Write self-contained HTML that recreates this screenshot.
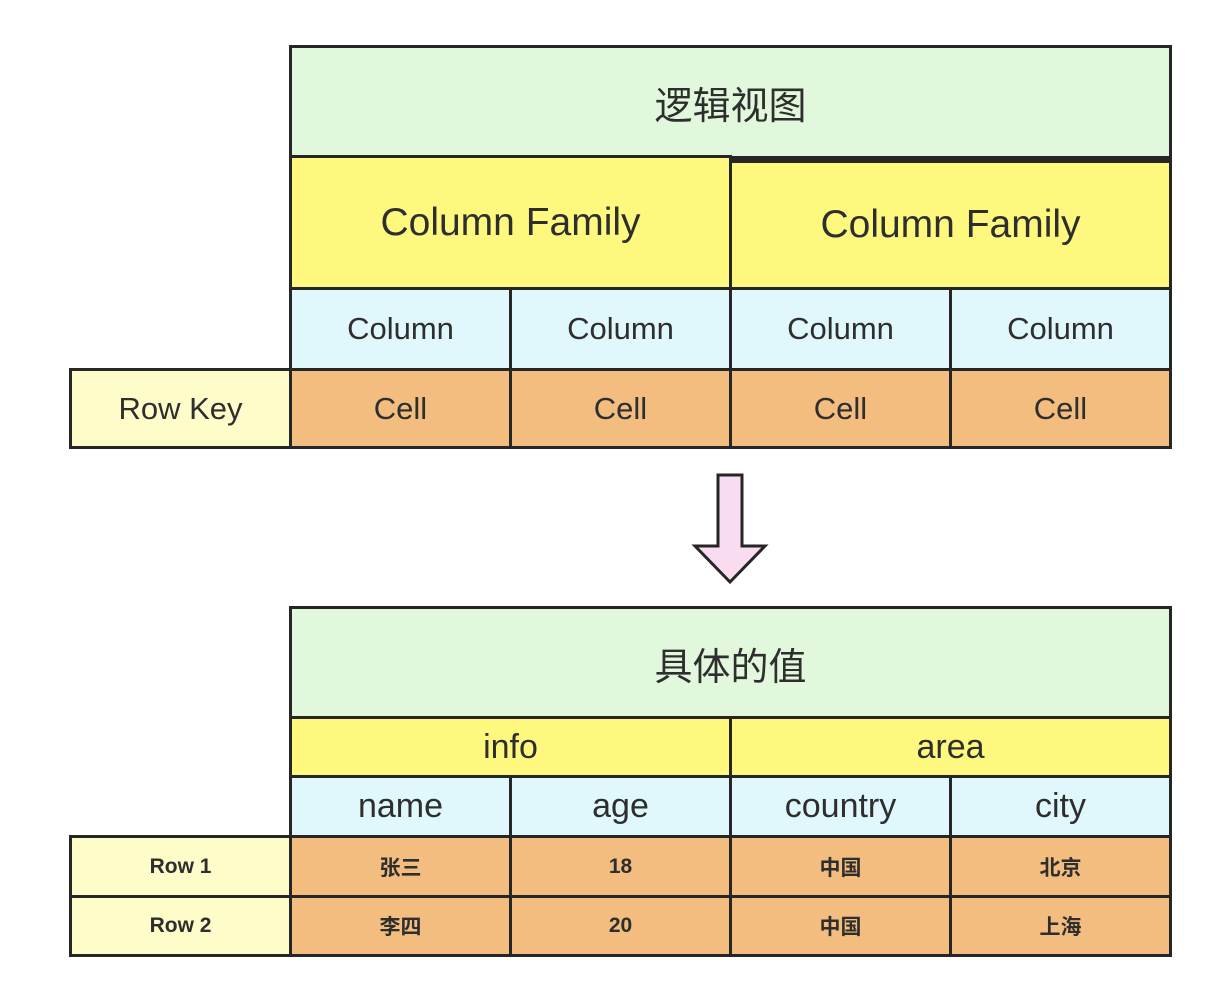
<!DOCTYPE html>
<html><head><meta charset="utf-8"><style>
html,body{margin:0;padding:0;background:#fff;}
body{width:1222px;height:994px;position:relative;overflow:hidden;font-family:"Liberation Sans","Noto Sans CJK SC",sans-serif;color:#2e2e2e;}
.b{position:absolute;box-sizing:border-box;border:3px solid #262626;display:flex;align-items:center;justify-content:center;}
.g{background:#e2f8dc}.y{background:#fef97e}.c{background:#e0f8fb}.o{background:#f2bd7e}.k{background:#fefcc9}
.t1{font-size:38px}.t2{font-size:34px}.t3{font-size:31px}.t4{font-size:21px;font-weight:bold}.cf{font-size:39px}
</style></head><body>
<div class="b g t1" style="left:289px;top:45px;width:883px;height:114px;">逻辑视图</div>
<div class="b y cf" style="left:289px;top:155px;width:443px;height:135px;">Column Family</div>
<div class="b y cf" style="left:729px;top:157px;width:443px;height:133px;border-top-width:6px;">Column Family</div>
<div class="b c t3" style="left:289px;top:287px;width:223px;height:84px;">Column</div>
<div class="b c t3" style="left:509px;top:287px;width:223px;height:84px;">Column</div>
<div class="b c t3" style="left:729px;top:287px;width:223px;height:84px;">Column</div>
<div class="b c t3" style="left:949px;top:287px;width:223px;height:84px;">Column</div>
<div class="b k t3" style="left:69px;top:368px;width:223px;height:81px;">Row Key</div>
<div class="b o t3" style="left:289px;top:368px;width:223px;height:81px;">Cell</div>
<div class="b o t3" style="left:509px;top:368px;width:223px;height:81px;">Cell</div>
<div class="b o t3" style="left:729px;top:368px;width:223px;height:81px;">Cell</div>
<div class="b o t3" style="left:949px;top:368px;width:223px;height:81px;">Cell</div>
<svg style="position:absolute;left:0;top:0" width="1222" height="994">
<polygon points="718,475 742,475 742,546 765,546 730,582 695,546 718,546" fill="#f9dcef" stroke="#262626" stroke-width="3" stroke-linejoin="miter"/>
</svg>
<div class="b g t1" style="left:289px;top:606px;width:883px;height:114px;">具体的值</div>
<div class="b y t2" style="left:289px;top:716px;width:443px;height:62px;">info</div>
<div class="b y t2" style="left:729px;top:716px;width:443px;height:62px;">area</div>
<div class="b c t2" style="left:289px;top:775px;width:223px;height:63px;">name</div>
<div class="b c t2" style="left:509px;top:775px;width:223px;height:63px;">age</div>
<div class="b c t2" style="left:729px;top:775px;width:223px;height:63px;">country</div>
<div class="b c t2" style="left:949px;top:775px;width:223px;height:63px;">city</div>
<div class="b k t4" style="left:69px;top:835px;width:223px;height:63px;">Row 1</div>
<div class="b o t4" style="left:289px;top:835px;width:223px;height:63px;">张三</div>
<div class="b o t4" style="left:509px;top:835px;width:223px;height:63px;">18</div>
<div class="b o t4" style="left:729px;top:835px;width:223px;height:63px;">中国</div>
<div class="b o t4" style="left:949px;top:835px;width:223px;height:63px;">北京</div>
<div class="b k t4" style="left:69px;top:895px;width:223px;height:62px;">Row 2</div>
<div class="b o t4" style="left:289px;top:895px;width:223px;height:62px;">李四</div>
<div class="b o t4" style="left:509px;top:895px;width:223px;height:62px;">20</div>
<div class="b o t4" style="left:729px;top:895px;width:223px;height:62px;">中国</div>
<div class="b o t4" style="left:949px;top:895px;width:223px;height:62px;">上海</div>
</body></html>
